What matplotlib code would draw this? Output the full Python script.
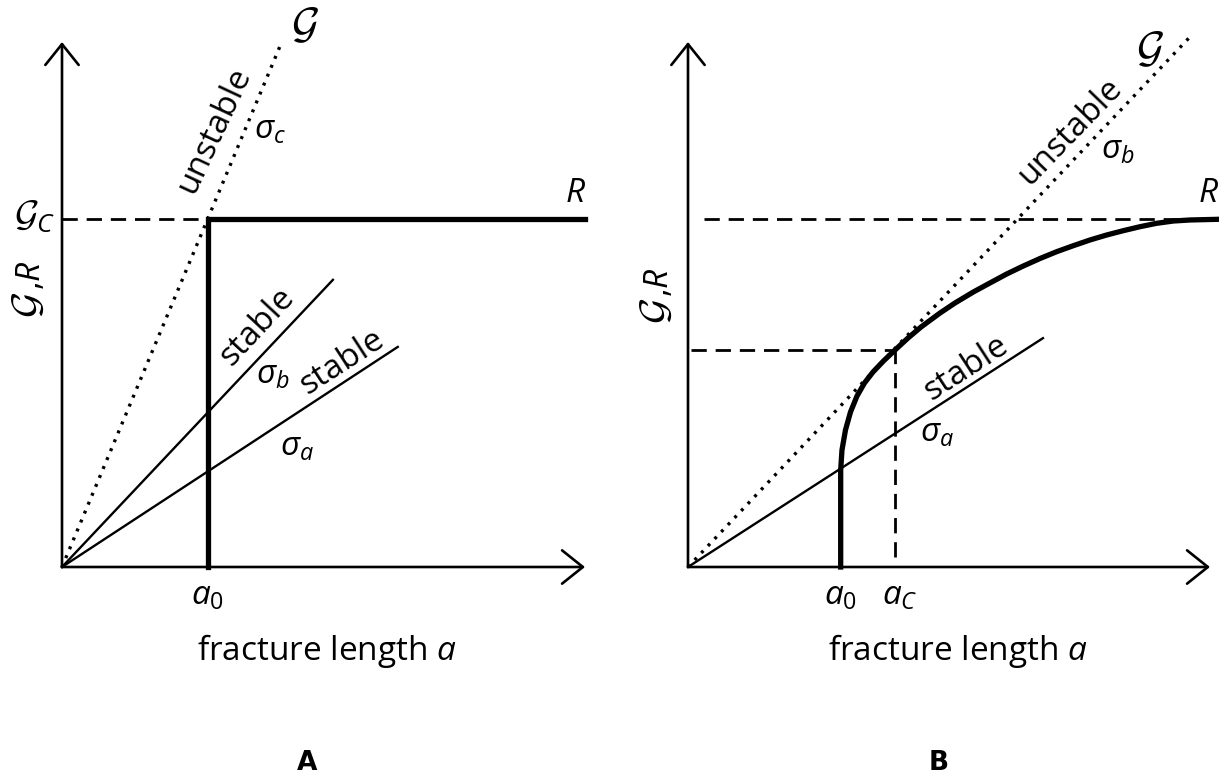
import matplotlib
matplotlib.use('Agg')
import matplotlib.pyplot as plt

plt.rcParams['font.family'] = 'Open Sans'
plt.rcParams['mathtext.fontset'] = 'custom'
plt.rcParams['mathtext.rm'] = 'Open Sans'
plt.rcParams['mathtext.it'] = 'Open Sans:italic'
plt.rcParams['mathtext.cal'] = 'cmsy10'

# --- panel A: flat resistance curve ---
a0_A = 0.279
Gc_A = 0.663
R_end_A = 1.0
# energy release lines G = k * a (sigma_c, sigma_b, sigma_a)
slopes_A = [2.38, 1.056, 0.653]
ends_A = [0.42, 0.518, 0.642]

# --- panel B: rising resistance curve ---
a0_B = 0.2925
ac_B = 0.3966
Gc_B = 0.663
G_crit_B = 0.4133
r_curve_a = [0.2925, 0.2925, 0.2925, 0.2950, 0.3017, 0.3113, 0.3238, 0.3381,
             0.3544, 0.3745, 0.3966, 0.4215, 0.4464, 0.4828, 0.5115, 0.5466,
             0.5785, 0.6105, 0.6423, 0.6743, 0.7063, 0.7381, 0.7701, 0.8021,
             0.8339, 0.8659, 0.8979, 0.9297, 0.9617, 1.0172]
r_curve_R = [0.0, 0.1467, 0.1848, 0.2229, 0.2610, 0.2952, 0.3257, 0.3505,
             0.3714, 0.3924, 0.4133, 0.4362, 0.4571, 0.4838, 0.5029, 0.5238,
             0.5410, 0.5581, 0.5733, 0.5876, 0.6006, 0.6120, 0.6229, 0.6324,
             0.6406, 0.6482, 0.6547, 0.6590, 0.6610, 0.6623]
# sigma_b (dotted, tangent) and sigma_a
slopes_B = [1.05, 0.641]
ends_B = [0.96, 0.68]

FS = 24
GS = 31
DOT = (0, (0.9, 2.0))
DASH = (0, (5.5, 3.2))

fig = plt.figure(figsize=(12.19, 7.76), dpi=100)
axA = fig.add_axes([62 / 1219, 209 / 776, 523 / 1219, 525 / 776])
axB = fig.add_axes([688 / 1219, 209 / 776, 522 / 1219, 525 / 776])


def setup(ax):
    ax.set_xlim(0, 1)
    ax.set_ylim(0, 1)
    ax.axis('off')
    arrow = dict(arrowstyle='->,head_length=0.75,head_width=0.6', lw=1.9,
                 color='black', shrinkA=0, shrinkB=0, mutation_scale=20)
    ax.annotate('', xy=(1.0, 0), xytext=(0, 0), arrowprops=arrow, annotation_clip=False)
    ax.annotate('', xy=(0, 1.0), xytext=(0, 0), arrowprops=arrow, annotation_clip=False)


def gr_label(ax, x, y_g, y_r):
    # rotated "G,R" axis label, script G drawn larger than R
    ax.text(x, y_g, r'$\mathcal{G}$', fontsize=29, rotation=90, ha='center', va='baseline',
            rotation_mode='anchor')
    ax.text(x, y_r, r',$R$', fontsize=FS, rotation=90, ha='left', va='baseline',
            rotation_mode='anchor')


setup(axA)
setup(axB)

# panel A lines
axA.plot([0, ends_A[0]], [0, slopes_A[0] * ends_A[0]], color='black', lw=2.4, ls=DOT, clip_on=False)
for k, e in zip(slopes_A[1:], ends_A[1:]):
    axA.plot([0, e], [0, k * e], color='black', lw=1.7, clip_on=False)
axA.plot([0, a0_A], [Gc_A, Gc_A], color='black', lw=2, ls=DASH, clip_on=False)
axA.plot([a0_A, a0_A, R_end_A], [0, Gc_A, Gc_A], color='black', lw=3.8,
         solid_joinstyle='miter', clip_on=False)

# panel A labels
axA.text(0.465, 1.03, r'$\mathcal{G}$', fontsize=GS, ha='center', va='center')
axA.text(0.291, 0.832, 'unstable', fontsize=FS, rotation=65, ha='center', va='center',
         rotation_mode='anchor')
axA.text(0.398, 0.832, r'$\sigma_c$', fontsize=FS, ha='center', va='center')
axA.text(0.981, 0.712, r'$R$', fontsize=FS, ha='center', va='center')
axA.text(-0.052, 0.668, r'$\mathcal{G}_C$', fontsize=27, ha='center', va='center')
gr_label(axA, -0.042, 0.500, 0.528)
axA.text(0.373, 0.457, 'stable', fontsize=FS, rotation=47, ha='center', va='center',
         rotation_mode='anchor')
axA.text(0.403, 0.366, r'$\sigma_b$', fontsize=FS, ha='center', va='center')
axA.text(0.535, 0.390, 'stable', fontsize=FS, rotation=33, ha='center', va='center',
         rotation_mode='anchor')
axA.text(0.449, 0.229, r'$\sigma_a$', fontsize=FS, ha='center', va='center')
axA.text(a0_A, -0.055, r'$a_0$', fontsize=FS, ha='center', va='center')
axA.text(0.507, -0.16, r'fracture length $a$', fontsize=FS, ha='center', va='center')
axA.text(0.468, -0.373, 'A', fontsize=19, fontweight='bold', ha='center', va='center',
         family=['Liberation Sans Narrow', 'DejaVu Sans'])

# panel B lines
axB.plot([0, ends_B[0]], [0, slopes_B[0] * ends_B[0]], color='black', lw=2.4, ls=DOT, clip_on=False)
axB.plot([0, ends_B[1]], [0, slopes_B[1] * ends_B[1]], color='black', lw=1.7, clip_on=False)
axB.plot([0.03, 0.95], [Gc_B, Gc_B], color='black', lw=2, ls=DASH, clip_on=False)
axB.plot([0.005, ac_B], [G_crit_B, G_crit_B], color='black', lw=2, ls=DASH, clip_on=False)
axB.plot([ac_B, ac_B], [0.02, G_crit_B], color='black', lw=2, ls=DASH, clip_on=False)
axB.plot(r_curve_a, r_curve_R, color='black', lw=3.8, solid_joinstyle='round', clip_on=False)

# panel B labels
axB.text(0.885, 0.985, r'$\mathcal{G}$', fontsize=GS, ha='center', va='center')
axB.text(0.732, 0.830, 'unstable', fontsize=FS, rotation=46, ha='center', va='center',
         rotation_mode='anchor')
axB.text(0.824, 0.794, r'$\sigma_b$', fontsize=FS, ha='center', va='center')
axB.text(0.998, 0.712, r'$R$', fontsize=FS, ha='center', va='center')
gr_label(axB, -0.038, 0.488, 0.515)
axB.text(0.533, 0.379, 'stable', fontsize=FS, rotation=33, ha='center', va='center',
         rotation_mode='anchor')
axB.text(0.477, 0.255, r'$\sigma_a$', fontsize=FS, ha='center', va='center')
axB.text(a0_B, -0.055, r'$a_0$', fontsize=FS, ha='center', va='center')
axB.text(ac_B + 0.01, -0.055, r'$a_C$', fontsize=FS, ha='center', va='center')
axB.text(0.517, -0.16, r'fracture length $a$', fontsize=FS, ha='center', va='center')
axB.text(0.481, -0.373, 'B', fontsize=19, fontweight='bold', ha='center', va='center',
         family=['Liberation Sans Narrow', 'DejaVu Sans'])

fig.savefig('out.png', dpi=100)
